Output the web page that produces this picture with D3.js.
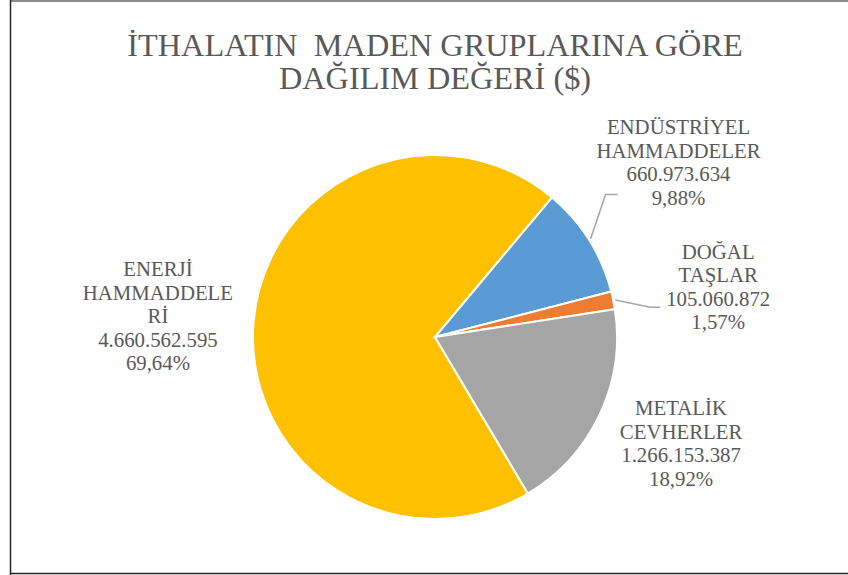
<!DOCTYPE html>
<html>
<head>
<meta charset="utf-8">
<script src="https://cdn.jsdelivr.net/npm/d3@7"></script>
<style>
  body { margin: 0; background: #fff; }
  svg { display: block; }
</style>
</head>
<body>
<svg id="chart" width="848" height="575"></svg>
<script>
const titleLines = ["İTHALATIN  MADEN GRUPLARINA GÖRE", "DAĞILIM DEĞERİ ($)"];
const categories = ["ENERJİ HAMMADDELERİ", "ENDÜSTRİYEL HAMMADDELER", "DOĞAL TAŞLAR", "METALİK CEVHERLER"];
const labelLines = [
	["ENERJİ", "HAMMADDELE", "Rİ"],
	["ENDÜSTRİYEL", "HAMMADDELER"],
	["DOĞAL", "TAŞLAR"],
	["METALİK", "CEVHERLER"],
];
const values = [4660562595, 660973634, 105060872, 1266153387];
const percents = ["69,64%", "9,88%", "1,57%", "18,92%"];
const colors = ["#FFC000", "#5B9BD5", "#ED7D31", "#A5A5A5"];

const svg = d3.select("#chart");
const cx = 435, cy = 337, r = 182;
const font = "'Liberation Serif', 'Times New Roman', serif";
const textColor = "#595959";

// frame
svg.append("line").attr("x1", 10).attr("x2", 848).attr("y1", 1).attr("y2", 1)
	.attr("stroke", "#8c8c8c").attr("stroke-width", 2);
svg.append("line").attr("x1", 10.5).attr("x2", 10.5).attr("y1", 0).attr("y2", 575)
	.attr("stroke", "#262626").attr("stroke-width", 1.5);
svg.append("line").attr("x1", 10).attr("x2", 848).attr("y1", 573.5).attr("y2", 573.5)
	.attr("stroke", "#262626").attr("stroke-width", 1.5);

// title
svg.append("g").selectAll("text")
	.data(titleLines)
	.join("text")
	.attr("x", cx)
	.attr("y", (d, i) => 56 + i * 33)
	.attr("text-anchor", "middle")
	.attr("font-family", font)
	.attr("font-size", 32.3)
	.attr("fill", textColor)
	.style("white-space", "pre")
	.text((d) => d);

const firstAngle = (149.3 * Math.PI) / 180;
const pie = d3.pie().sort(null).value((d) => d)
	.startAngle(firstAngle).endAngle(firstAngle + 2 * Math.PI);
const arcs = pie(values);
const arc = d3.arc().innerRadius(0).outerRadius(r);

const g = svg.append("g").attr("transform", `translate(${cx},${cy})`);
g.selectAll("path")
	.data(arcs)
	.join("path")
	.attr("d", arc)
	.attr("fill", (d, i) => colors[i])
	.attr("stroke", "#fff")
	.attr("stroke-width", 2);

// label placement nudges (px) from the mid-angle point
const labelR = 282;
const nudge = [[4, 2], [5, -24], [7, 7], [-9, -14]];
const lh = 23.5;
const fmt = (v) => d3.format(",")(v).replace(/,/g, ".");
const mid = (d) => (d.startAngle + d.endAngle) / 2;

arcs.forEach((d, i) => {
	const a = mid(d);
	const lx = Math.sin(a) * labelR + nudge[i][0];
	const ly = -Math.cos(a) * labelR + nudge[i][1];
	const lines = [...labelLines[i], fmt(values[i]), percents[i]];
	const y0 = ly - ((lines.length - 1) * lh) / 2 + 7;
	g.append("g").selectAll("text")
		.data(lines)
		.join("text")
		.attr("x", lx)
		.attr("y", (t, j) => y0 + j * lh)
		.attr("text-anchor", "middle")
		.attr("font-family", font)
		.attr("font-size", 20.8)
		.attr("fill", textColor)
		.text((t) => t);

	// leader lines for the two slices on the upper right
	if (i === 1 || i === 2) {
		const start = [Math.sin(a) * (r + 2), -Math.cos(a) * (r + 2)];
		const elbow = i === 1 ? [lx - 73, ly + 32] : [lx - 68, ly + 20];
		const end = [elbow[0] + (i === 1 ? 12 : 10), elbow[1]];
		g.append("polyline")
			.attr("points", [start, elbow, end].map((p) => p.join(",")).join(" "))
			.attr("fill", "none")
			.attr("stroke", "#A6A6A6")
			.attr("stroke-width", 1.5);
	}
});
</script>
</body>
</html>
